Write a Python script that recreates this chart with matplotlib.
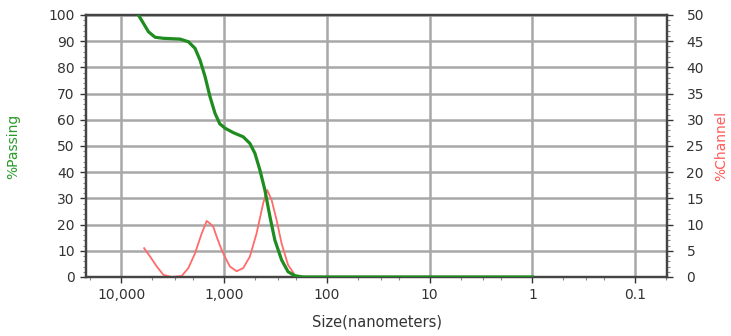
import matplotlib.pyplot as plt
from matplotlib.ticker import FixedLocator, LogLocator, NullFormatter

# %Passing (cumulative), size in nanometers
passing_size = [6795, 6070, 5430, 4677, 3880, 2673, 2222, 1914, 1710, 1528, 1367,
                1223, 1100, 977, 812, 650, 560, 500, 447, 400, 357, 320, 275,
                238, 205, 170, 100, 10, 1]
passing_pct = [100, 96.8, 93.6, 91.5, 91.1, 90.8, 89.8, 87.3, 82.8, 76.5, 68.8,
               62.5, 58.5, 56.8, 55.1, 53.5, 51.0, 47.2, 40.8, 33.2, 23.0, 14.1, 6.5,
               2.0, 0.5, 0, 0, 0, 0]

# %Channel (differential)
channel_size = [5980, 5230, 4505, 3880, 3220, 2576, 2222, 1914, 1648, 1472, 1367,
                1271, 1178, 1094, 1016, 942, 875, 753, 650, 560, 482, 415, 380,
                344, 308, 275, 238, 205, 185, 100, 10, 0.95]
channel_pct = [5.5, 3.9, 2.0, 0.4, 0, 0.2, 1.7, 4.5, 8.3, 10.7, 10.2,
               9.6, 7.7, 6.0, 4.5, 3.2, 2.0, 1.1, 1.7, 3.9, 8.3, 14.1, 16.6,
               14.7, 10.9, 6.4, 2.3, 0.4, 0, 0, 0, 0]

x_ticks = [10000, 1000, 100, 10, 1, 0.1]
x_labels = ['10,000', '1,000', '100', '10', '1', '0.1']

fig = plt.figure(figsize=(7.31, 3.36), dpi=100)
ax = fig.add_axes([0.1176, 0.1756, 0.7949, 0.7798])
ax2 = ax.twinx()

ax.set_xscale('log')
ax.set_xlim(22000, 0.049)
ax.set_ylim(0, 100)
ax2.set_ylim(0, 50)

grid_col = '#a8a8a8'
ax.set_xticks(x_ticks)
ax.set_xticklabels(x_labels)
ax.xaxis.set_minor_locator(LogLocator(base=10, subs=[2, 3, 5]))
ax.xaxis.set_minor_formatter(NullFormatter())
ax.set_yticks(range(0, 101, 10))
ax.yaxis.set_minor_locator(FixedLocator(range(0, 101, 2)))
ax2.set_yticks(range(0, 51, 5))
ax2.yaxis.set_minor_locator(FixedLocator(range(0, 51, 1)))

ax.grid(True, which='major', color=grid_col, lw=1.8, zorder=0)
ax.set_axisbelow(True)

# lines: red under green
ax2.plot(channel_size, channel_pct, color='#ff6b6b', lw=1.3, zorder=2)
ax2.set_zorder(ax.get_zorder() + 1)
ax2.patch.set_visible(False)
ax2.plot(passing_size, [p / 2 for p in passing_pct], color='#1e8c1e', lw=2.3, zorder=3)

tick_col = '#333333'
for a in (ax, ax2):
    a.tick_params(axis='both', which='major', labelsize=10, colors=tick_col,
                  length=4, width=1, pad=4)
    a.tick_params(axis='both', which='minor', length=2.5, width=0.8, colors='#888888')
    for s in a.spines.values():
        s.set_color('#444444')
        s.set_linewidth(1.6)
ax2.tick_params(axis='y', which='major', pad=10)

ax.set_ylabel('%Passing', color='#2a9a2a', fontsize=10, labelpad=20)
ax2.set_ylabel('%Channel', color='#ff5a5a', fontsize=10, labelpad=7)
ax.set_xlabel('Size(nanometers)', color='#333333', fontsize=10.5, labelpad=9)

fig.savefig('out.png', dpi=100)
